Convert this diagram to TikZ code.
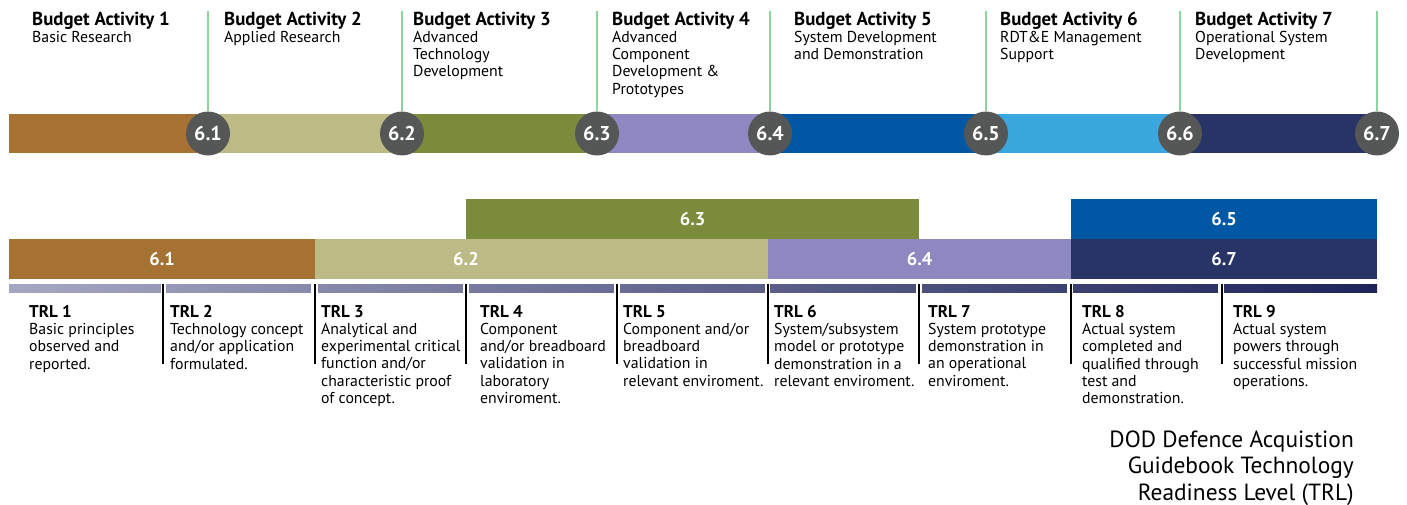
\documentclass[tikz,border=0pt]{standalone}
\usepackage{fontspec}
\setmainfont{PT Sans}

\definecolor{ba1}{HTML}{A67233}
\definecolor{ba2}{HTML}{BDBB85}
\definecolor{ba3}{HTML}{7B8B3C}
\definecolor{ba4}{HTML}{8D89C0}
\definecolor{ba5}{HTML}{0057A4}
\definecolor{ba6}{HTML}{3AA8DE}
\definecolor{ba7}{HTML}{283465}
\definecolor{dotgray}{HTML}{555756}
\definecolor{tickgreen}{HTML}{8ED49E}
\definecolor{trlleft}{HTML}{A5A7C2}
\definecolor{trlright}{HTML}{1E245A}

\begin{document}
\begin{tikzpicture}[x=1pt,y=-1pt,
	tick/.style={draw=tickgreen, line width=1.2pt},
	dot/.style={circle, fill=dotgray, text=white, inner sep=0pt, minimum size=44pt,
		font=\fontsize{20}{20}\selectfont\bfseries},
	band/.style={anchor=north west, inner sep=0pt, minimum height=40pt, text=white,
		font=\fontsize{18.5}{18.5}\selectfont\bfseries},
	head/.style={anchor=north west, align=left, inner sep=0pt,
		font=\fontsize{15.8}{17.3}\selectfont},
	divider/.style={draw=black, line width=1.1pt}]
	\useasboundingbox (0,0) rectangle (1407,505);

	% budget activity bar
	\fill[ba1] (9,114) rectangle (208,153);
	\fill[ba2] (208,114) rectangle (402,153);
	\fill[ba3] (402,114) rectangle (597,153);
	\fill[ba4] (597,114) rectangle (770,153);
	\fill[ba5] (770,114) rectangle (986,153);
	\fill[ba6] (986,114) rectangle (1180,153);
	\fill[ba7] (1180,114) rectangle (1377,153);

	\node[dot] (d61) at (208,133.5) {6.1};
	\node[dot] (d62) at (402,133.5) {6.2};
	\node[dot] (d63) at (597,133.5) {6.3};
	\node[dot] (d64) at (770,133.5) {6.4};
	\node[dot] (d65) at (986,133.5) {6.5};
	\node[dot] (d66) at (1180,133.5) {6.6};
	\node[dot] (d67) at (1377,133.5) {6.7};

	\coordinate (g61) at (208,11);
	\coordinate (g62) at (402,11);
	\coordinate (g63) at (597,11);
	\coordinate (g64) at (770,11);
	\coordinate (g65) at (986,11);
	\coordinate (g66) at (1180,11);
	\coordinate (g67) at (1377,11);
	\draw[tick] (g61) -- (d61);
	\draw[tick] (g62) -- (d62);
	\draw[tick] (g63) -- (d63);
	\draw[tick] (g64) -- (d64);
	\draw[tick] (g65) -- (d65);
	\draw[tick] (g66) -- (d66);
	\draw[tick] (g67) -- (d67);

	\node[head] (a1) at (32,11.5) {{\fontsize{18.8}{17.3}\selectfont\bfseries Budget Activity 1}\\Basic Research};
	\node[head] (a2) at (224,11.5) {{\fontsize{18.8}{17.3}\selectfont\bfseries Budget Activity 2}\\Applied Research};
	\node[head] (a3) at (413,11.5) {{\fontsize{18.8}{17.3}\selectfont\bfseries Budget Activity 3}\\Advanced\\Technology\\Development};
	\node[head] (a4) at (612,11.5) {{\fontsize{18.8}{17.3}\selectfont\bfseries Budget Activity 4}\\Advanced\\Component\\Development \&\\Prototypes};
	\node[head] (a5) at (794,11.5) {{\fontsize{18.8}{17.3}\selectfont\bfseries Budget Activity 5}\\System Development\\and Demonstration};
	\node[head] (a6) at (1000,11.5) {{\fontsize{18.8}{17.3}\selectfont\bfseries Budget Activity 6}\\RDT\&E Management\\Support};
	\node[head] (a7) at (1195,11.5) {{\fontsize{18.8}{17.3}\selectfont\bfseries Budget Activity 7}\\Operational System\\Development};

	% program element bands
	\node[band, fill=ba3, minimum width=453pt] (b63) at (466,199) {6.3};
	\node[band, fill=ba5, minimum width=306pt] (b65) at (1071,199) {6.5};
	\node[band, fill=ba1, minimum width=306pt] (b61) at (9,239) {6.1};
	\node[band, fill=ba2, minimum width=453pt] (b62) at (315,239) {};
	\node[band, fill=ba4, minimum width=303pt] (b64) at (768,239) {6.4};
	\node[band, fill=ba7, minimum width=306pt] (b67) at (1071,239) {6.7};
	\node[text=white, font=\fontsize{18.5}{18.5}\selectfont\bfseries] (l62) at (466,259) {6.2};

	% readiness levels
	\shade[left color=trlleft, right color=trlright] (9,284) rectangle (1377,292.3);
	\fill[white] (161,283) rectangle (166,293);
	\fill[white] (311,283) rectangle (318,293);
	\fill[white] (463,283) rectangle (469,293);
	\fill[white] (614,283) rectangle (620,293);
	\fill[white] (765,283) rectangle (770,293);
	\fill[white] (916,283) rectangle (922,293);
	\fill[white] (1067,283) rectangle (1073,293);
	\fill[white] (1218,283) rectangle (1224,293);
	\draw[divider] (163,284) -- (163,364);
	\draw[divider] (315,284) -- (315,364);
	\draw[divider] (466,284) -- (466,364);
	\draw[divider] (617,284) -- (617,364);
	\draw[divider] (768,284) -- (768,364);
	\draw[divider] (919,284) -- (919,364);
	\draw[divider] (1071,284) -- (1071,364);
	\draw[divider] (1222,284) -- (1222,364);

	\node[head] (t1) at (29,304.8) {{\fontsize{17}{17.3}\selectfont\bfseries TRL 1}\\Basic principles\\observed and\\reported.};
	\node[head] (t2) at (170,304.8) {{\fontsize{17}{17.3}\selectfont\bfseries TRL 2}\\Technology concept\\and/or application\\formulated.};
	\node[head] (t3) at (321,304.8) {{\fontsize{17}{17.3}\selectfont\bfseries TRL 3}\\Analytical and\\experimental critical\\function and/or\\characteristic proof\\of concept.};
	\node[head] (t4) at (480,304.8) {{\fontsize{17}{17.3}\selectfont\bfseries TRL 4}\\Component\\and/or breadboard\\validation in\\laboratory\\enviroment.};
	\node[head] (t5) at (623,304.8) {{\fontsize{17}{17.3}\selectfont\bfseries TRL 5}\\Component and/or\\breadboard\\validation in\\relevant enviroment.};
	\node[head] (t6) at (774,304.8) {{\fontsize{17}{17.3}\selectfont\bfseries TRL 6}\\System/subsystem\\model or prototype\\demonstration in a\\relevant enviroment.};
	\node[head] (t7) at (928,304.8) {{\fontsize{17}{17.3}\selectfont\bfseries TRL 7}\\System prototype\\demonstration in\\an operational\\enviroment.};
	\node[head] (t8) at (1082,304.8) {{\fontsize{17}{17.3}\selectfont\bfseries TRL 8}\\Actual system\\completed and\\qualified through\\test and\\demonstration.};
	\node[head] (t9) at (1233,304.8) {{\fontsize{17}{17.3}\selectfont\bfseries TRL 9}\\Actual system\\powers through\\successful mission\\operations.};

	\node[anchor=north east, align=right, inner sep=0pt, font=\fontsize{23.4}{26.5}\selectfont] (ttl) at (1354,430.5)
		{DOD Defence Acquistion\\Guidebook Technology\\Readiness Level (TRL)};
\end{tikzpicture}
\end{document}
